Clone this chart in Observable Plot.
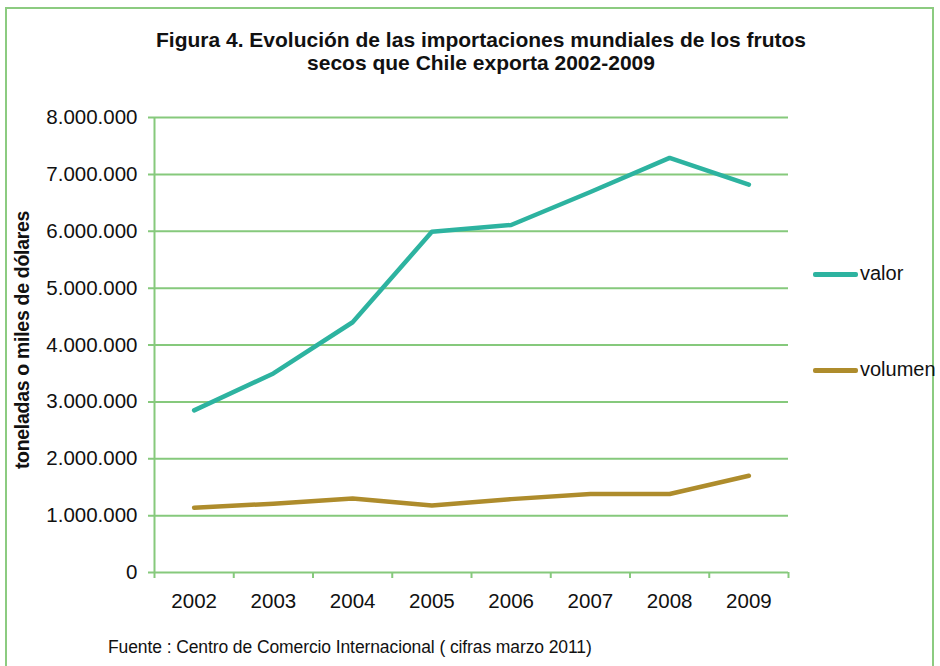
<!DOCTYPE html>
<html>
<head>
<meta charset="utf-8">
<script src="https://cdn.jsdelivr.net/npm/d3@7"></script>
<script src="https://cdn.jsdelivr.net/npm/@observablehq/plot@0.6"></script>
<style>
  html, body { margin: 0; padding: 0; background: #fff; }
  #wrap { position: relative; width: 940px; height: 666px; overflow: hidden; font-family: "Liberation Sans", Arial, sans-serif; }
  #frame { position: absolute; left: 5px; top: 7px; width: 929px; height: 700px; border: 2px solid #8ccb80; box-sizing: border-box; }
  #title { position: absolute; left: 0; top: 28px; width: 962px; text-align: center; font-family: "Liberation Sans Narrow", "Arial Narrow", "Liberation Sans", Arial, sans-serif; font-stretch: condensed; font-weight: bold; font-size: 21px; line-height: 23px; color: #111; }
  #ylabel { position: absolute; left: 22px; top: 340px; transform: translate(-50%, -50%) rotate(-90deg); white-space: nowrap; font-weight: bold; font-size: 19.5px; letter-spacing: -0.3px; color: #111; }
  .leg { position: absolute; left: 813px; font-size: 20px; color: #111; white-space: nowrap; }
  .leg span.sw { display: inline-block; width: 45px; height: 5px; border-radius: 2px; vertical-align: middle; margin-right: 2px; }
  #source { position: absolute; left: 108px; top: 637px; font-size: 17.5px; color: #111; white-space: nowrap; letter-spacing: -0.1px; }
  #chart { position: absolute; left: 0; top: 0; }
  #chart svg text { fill: #111; }
</style>
</head>
<body>
<div id="wrap">
  <div id="frame"></div>
  <div id="chart"></div>
  <div id="title">Figura 4. Evolución de las importaciones mundiales de los frutos<br>secos que Chile exporta 2002-2009</div>
  <div id="ylabel">toneladas o miles de dólares</div>
  <div class="leg" id="leg1"></div>
  <div class="leg" id="leg2"></div>
  <div id="source">Fuente : Centro de Comercio Internacional ( cifras marzo 2011)</div>
</div>
<script>
const years = [2002, 2003, 2004, 2005, 2006, 2007, 2008, 2009];
const valor = [2850000, 3500000, 4400000, 5990000, 6110000, 6690000, 7290000, 6820000];
const volumen = [1140000, 1210000, 1300000, 1180000, 1290000, 1380000, 1380000, 1700000];
const seriesNames = ["valor", "volumen"];
const seriesColors = ["#2db3a0", "#ae8c2c"];
const yTicks = [0, 1000000, 2000000, 3000000, 4000000, 5000000, 6000000, 7000000, 8000000];
const xBounds = [2001.5, 2002.5, 2003.5, 2004.5, 2005.5, 2006.5, 2007.5, 2008.5, 2009.5];
const gridColor = "#86c97c";

const rows = [];
years.forEach((y, i) => {
  rows.push({year: y, value: valor[i], series: "valor"});
  rows.push({year: y, value: volumen[i], series: "volumen"});
});

const fmt = d => d3.format(",")(d).replace(/,/g, ".");

const chart = Plot.plot({
  width: 940,
  height: 666,
  marginLeft: 154,
  marginRight: 152,
  marginTop: 117,
  marginBottom: 94,
  style: {fontFamily: "Liberation Sans, Arial, sans-serif", fontSize: "20.5px", color: "#111", background: "transparent", overflow: "visible"},
  x: {domain: [xBounds[0], xBounds[xBounds.length - 1]], ticks: years, tickFormat: d => String(d), tickSize: 0, tickPadding: 21, label: null},
  y: {domain: [0, 8000000], ticks: yTicks, tickFormat: fmt, tickSize: 0, tickPadding: 17, label: null},
  color: {domain: seriesNames, range: seriesColors},
  marks: [
    Plot.ruleY(yTicks, {y: d => d, stroke: gridColor, strokeWidth: 2, insetLeft: -6}),
    Plot.ruleX([xBounds[0]], {x: d => d, stroke: gridColor, strokeWidth: 2}),
    Plot.ruleX(xBounds, {x: d => d, y1: 0, y2: 0, insetBottom: -6, stroke: gridColor, strokeWidth: 2}),
    Plot.line(rows, {x: "year", y: "value", z: "series", stroke: "series", strokeWidth: 4.5, strokeLinejoin: "round", strokeLinecap: "round"})
  ]
});
document.getElementById("chart").appendChild(chart);

// legend
const legIds = ["leg1", "leg2"];
const legTops = [262, 358];
seriesNames.forEach((name, i) => {
  const el = document.getElementById(legIds[i]);
  el.style.top = legTops[i] + "px";
  el.innerHTML = `<span class="sw" style="background:${seriesColors[i]}"></span>${name}`;
});
</script>
</body>
</html>
